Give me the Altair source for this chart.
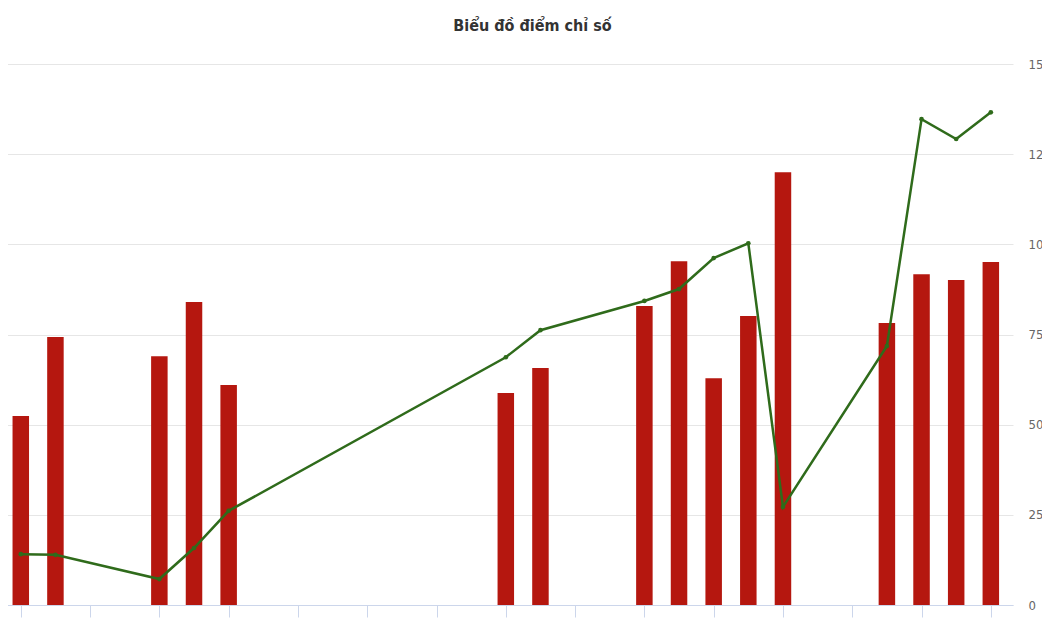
import altair as alt
import pandas as pd

# Trading days (Feb 2024, market closed for Tet 8-14 Feb)
dates = ["2024-02-01", "2024-02-02", "2024-02-05", "2024-02-06", "2024-02-07",
         "2024-02-15", "2024-02-16", "2024-02-19", "2024-02-20", "2024-02-21",
         "2024-02-22", "2024-02-23", "2024-02-26", "2024-02-27", "2024-02-28",
         "2024-02-29"]
bar_values = [52.4, 74.3, 69.0, 84.0, 61.0, 58.8, 65.7, 82.9, 95.3, 62.9,
              80.1, 120.0, 78.2, 91.7, 90.1, 95.1]
line_values = [14.1, 13.9, 7.2, 15.8, 26.1, 68.7, 76.2, 84.3, 87.6, 96.2,
               100.3, 27.2, 71.8, 134.7, 129.2, 136.6]
y_ticks = [0, 25, 50, 75, 100, 125, 150]

df = pd.DataFrame({"date": dates, "cot": bar_values, "duong": line_values})

DAY = 86400000
t0 = int(pd.Timestamp("2024-02-01", tz="UTC").value // 10**6)
x_domain = [t0 - 0.6 * DAY, t0 + 28.64 * DAY]
x_ticks = [t0 + 2 * i * DAY for i in range(15)]

FONT = "Liberation Sans Narrow, DejaVu Sans Condensed, Roboto, sans-serif"

x_enc = alt.X(
    "date:T",
    scale=alt.Scale(type="utc", domain=x_domain, nice=False, padding=0),
    axis=alt.Axis(values=x_ticks, labelExpr="utcFormat(datum.value, '%d/%m')",
                  title=None, grid=False, domainColor="#ccd6eb",
                  tickColor="#ccd6eb", tickSize=12, labelPadding=12,
                  labelColor="#666666", labelFont=FONT, labelFontSize=13),
)
y_scale = alt.Scale(domain=[0, 150], nice=False, padding=0)
y_axis = alt.Axis(values=y_ticks, orient="right", title=None, ticks=False,
                  domain=False, labelPadding=15, labelColor="#666666",
                  labelFont=FONT, labelFontSize=13, gridColor="#e6e6e6",
                  labelAlign="left")

bars = alt.Chart(df).mark_bar(width=16.5, color="#b5170f").encode(
    x=x_enc,
    y=alt.Y("cot:Q", scale=y_scale, axis=y_axis),
)

line = alt.Chart(df).mark_line(
    color="#2f6b1b", strokeWidth=2.5,
    point=alt.OverlayMarkDef(color="#2f6b1b", size=22, filled=True),
).encode(
    x=x_enc,
    y=alt.Y("duong:Q", scale=y_scale, axis=y_axis),
)

chart = alt.layer(bars, line).properties(
    width=1013,
    height=541,
    autosize=alt.AutoSizeParams(type="none"),
    padding={"left": -8, "top": 56, "right": 29, "bottom": 25},
    title=alt.TitleParams(
        "Biểu đồ điểm chỉ số", font=FONT, fontSize=16, fontWeight="bold",
        color="#333333", anchor="middle", dx=26, offset=24,
    ),
).configure_view(stroke=None)

chart.save("out.html", embed_options={"renderer": "svg", "actions": False})
